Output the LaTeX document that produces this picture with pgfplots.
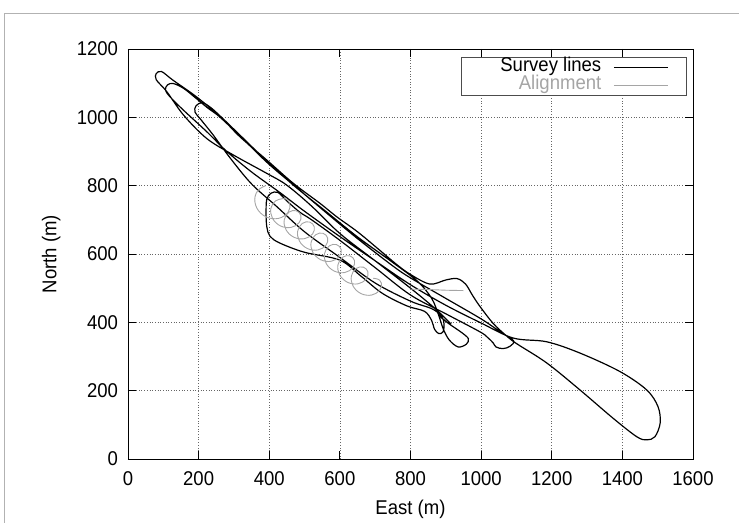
\documentclass[border=0pt]{standalone}
\usepackage{pgfplots}
\pgfplotsset{compat=1.18}
\usepackage{fontspec}
\setmainfont{Liberation Sans}[FakeStretch=0.93]
\definecolor{aligngray}{RGB}{165,165,165}
\newcommand{\myfont}{\fontsize{20}{23}\selectfont}
\begin{document}
\begin{tikzpicture}[font=\myfont]
\useasboundingbox (-128bp,-64bp) rectangle (611bp,459bp);
\begin{axis}[
  at={(0,0)}, anchor=south west,
  scale only axis, width=565bp, height=410bp,
  font=\myfont,
  xmin=0,xmax=1600,ymin=0,ymax=1200,
  xtick={0,200,...,1600}, ytick={0,200,...,1200},
  grid=major,
  grid style={black!60, line width=0.7pt, dash pattern=on 0.7pt off 2pt},
  axis line style={black, line width=0.8pt},
  major tick length=8bp,
  tick style={black, line width=0.8pt},
  tick label style={font=\myfont},
  label style={font=\myfont},
  /pgf/number format/assume math mode=true,
  /pgf/number format/1000 sep={},
  xticklabel style={yshift=-9bp},
  yticklabel style={xshift=-6.5bp},
  xlabel={East (m)}, ylabel={North (m)},
  every axis x label/.style={at={(axis description cs:0.5,-0.122)}, anchor=center},
  every axis y label/.style={at={(axis description cs:-0.136,0.5)}, anchor=center, rotate=90},
  legend style={at={(axis description cs:0.989,0.98)}, anchor=north east, draw=black!70, line width=0.6pt, fill=white, inner xsep=18bp, inner ysep=1bp, column sep=11bp, row sep=0pt, font=\myfont, nodes={inner sep=1bp, text height=12.5bp, text depth=3.5bp}},
  legend cell align=right,
  legend plot pos=right,
  legend image code/.code={\draw[#1] (0bp,0bp) -- (54bp,0bp);},
]
\addplot[black, line width=1.2pt, smooth, tension=0.55] coordinates {
(915,395) (870,440) (800,500) (700,580) (600,660) (520,740) (449,802) (393,836)
(298,890) (223,938) (157,1007) (110,1075) (80,1110) (80,1128) (95,1134) (127,1109)
(194,1060) (261,1002) (317,943) (393,875) (468,807) (544,748) (591,709) (650,665)
(714,610) (760,570) (800,540) (855,512) (900,524) (932,528) (956,512) (975,480)
(997,446) (1034,397) (1070,362) (1100,338) (1186,281) (1280,202) (1374,119) (1441,65)
(1469,56) (1492,65) (1507,105) (1501,153) (1469,202) (1393,256) (1280,310) (1186,343)
(1091,354) (1000,398) (900,450) (800,510) (700,580) (600,651) (500,725) (430,780)
(350,840) (280,900) (223,958) (157,1021) (119,1060) (106,1080) (112,1095) (128,1099)
(157,1085) (190,1058) (225,1028) (261,1000) (330,932) (400,862) (480,792) (560,722)
(650,645) (750,565) (800,530) (900,470) (1000,410) (1060,368) (1092,346) (1082,330)
(1062,323) (1042,328) (1034,340) (1018,356) (997,372) (900,425) (800,480) (700,560)
(600,640) (520,700) (487,722) (450,755) (425,780) (405,778) (393,760) (391,720)
(393,680) (402,652) (430,632) (500,605) (600,582) (660,535) (720,485) (790,448)
(840,432) (860,405) (868,380) (880,367) (892,372) (895,395) (888,418) (860,440)
(800,462) (700,515) (600,590) (500,665) (420,740) (350,805) (290,880) (240,950)
(205,995) (190,1015) (192,1033) (210,1043) (235,1028) (270,995) (320,945) (393,872)
(470,800) (560,725) (650,650) (750,575) (820,520) (860,470) (880,420) (893,380)
(910,348) (935,328) (958,336) (964,352) (945,370) (910,395) (880,420)
};
\addlegendentry{\hspace*{20bp}Survey lines}
\addplot[aligngray, line width=0.9pt, smooth, tension=0.7] coordinates {
(390,800) (366.5,784.2) (359.5,751.8) (376,719.3) (409,703.5) (442,711.1) (458.5,735.3) (451.5,759.4)
(428,760) (409.5,746.2) (404.5,718.8) (419,691.3) (447,677.5) (475,683.1) (489.5,702.3) (484.5,721.4)
(466,727) (447.5,713.2) (442.5,685.8) (457,658.3) (485,644.5) (513,650.1) (527.5,669.3) (522.5,688.4)
(504,694) (485.5,680.2) (480.5,652.8) (495,625.3) (523,611.5) (551,617.1) (565.5,636.3) (560.5,655.4)
(542,661) (523.5,647.2) (518.5,619.8) (533,592.3) (561,578.5) (589,584.1) (603.5,603.3) (598.5,622.4)
(580,628) (561.5,614.2) (556.5,586.8) (571,559.3) (599,545.5) (627,551.1) (641.5,570.3) (636.5,589.4)
(618,595) (599.5,581.2) (594.5,553.8) (609,526.3) (637,512.5) (665,518.1) (679.5,537.3) (674.5,556.4)
(656,562) (637.5,548.2) (632.5,520.8) (647,493.3) (675,479.5) (703,485.1) (717.5,504.3) (712.5,523.4)
(694,529)
};
\addlegendentry{\textcolor{aligngray}{Alignment}}
\addplot[aligngray, line width=0.9pt, smooth, forget plot] coordinates {
(800,497) (850,496) (900,494) (950,493)
};
\end{axis}
\draw[gray!60, line width=0.8pt] (-124bp,-64bp) -- (-124bp,446bp) -- (611bp,446bp);
\end{tikzpicture}
\end{document}
